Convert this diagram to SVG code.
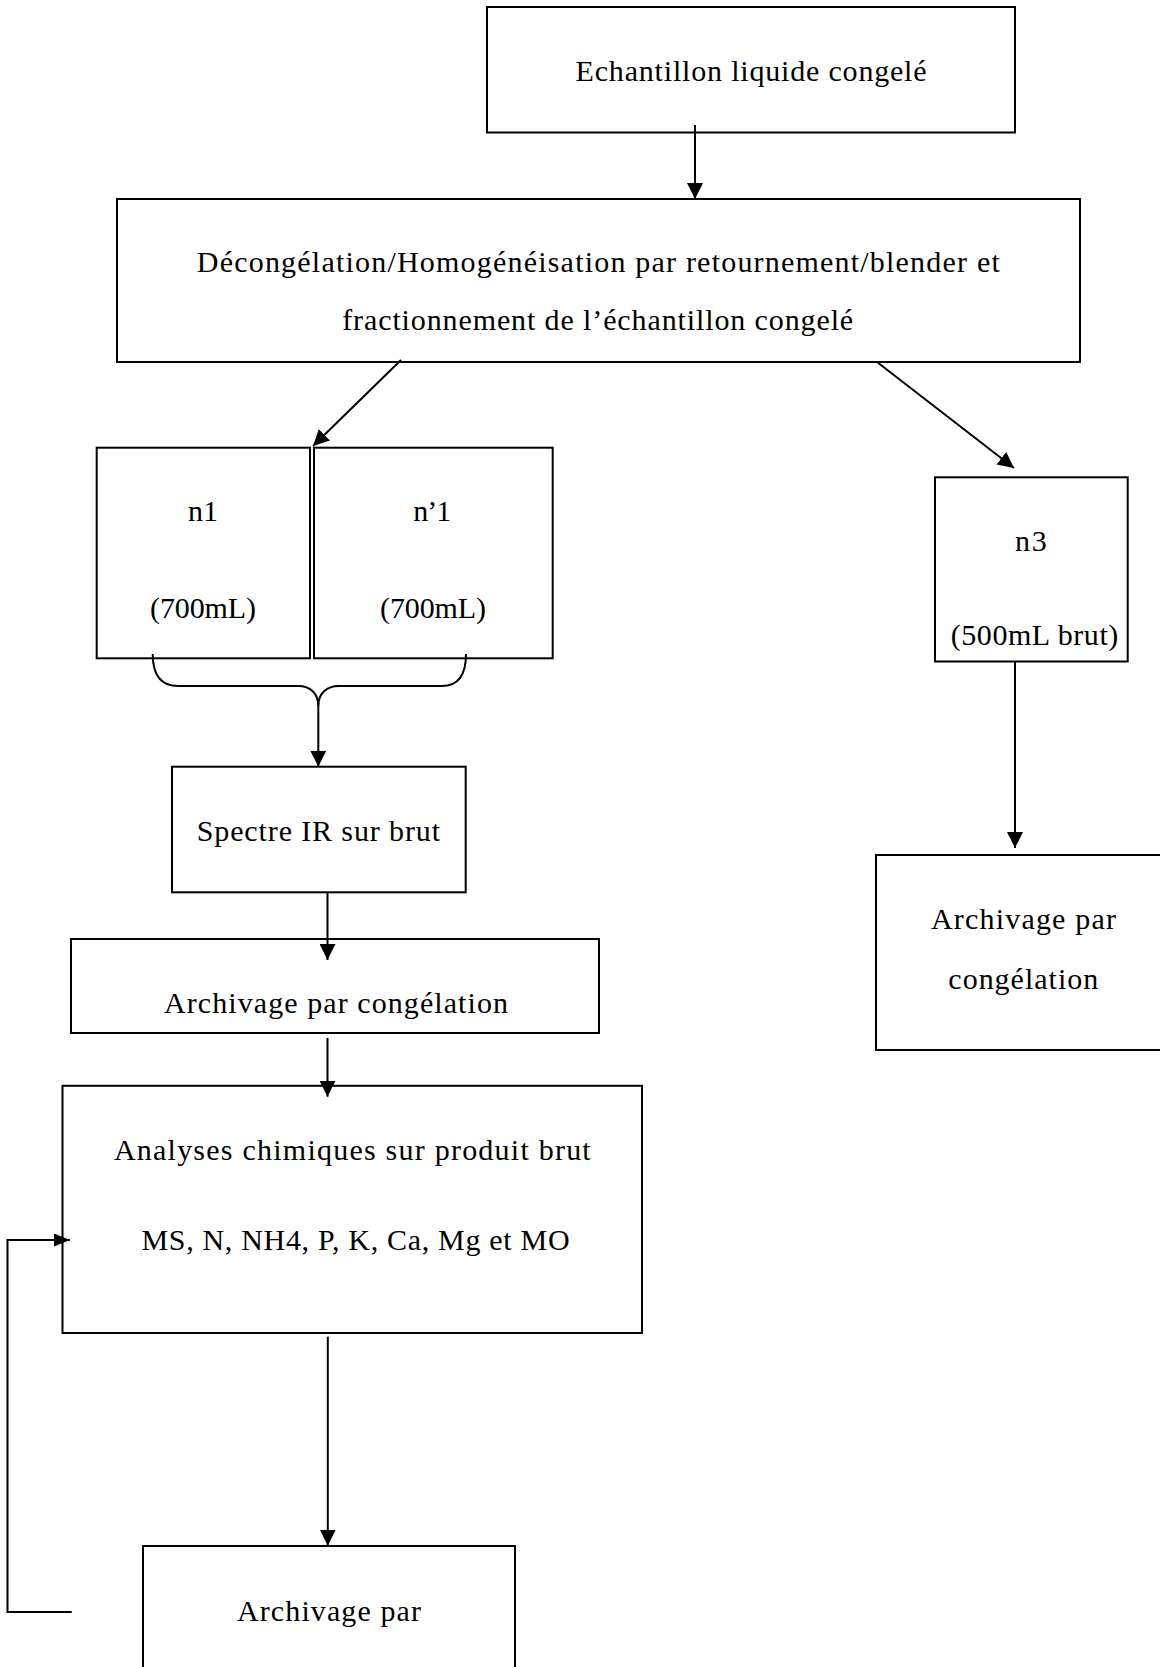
<svg xmlns="http://www.w3.org/2000/svg" width="1160" height="1667" viewBox="0 0 1160 1667">
<style>
.box{fill:#fff;stroke:#000;stroke-width:2}
.t{font-family:"Liberation Serif",Tinos,"Times New Roman",serif;font-size:30px;fill:#000}
.c{fill:none;stroke:#000;stroke-width:2}
</style>
<defs>
<marker id="ah" markerUnits="userSpaceOnUse" markerWidth="17" markerHeight="16" refX="16" refY="8" orient="auto">
<path d="M0,0 L16,8 L0,16 z" fill="#000"/>
</marker>
<marker id="ahs" markerUnits="userSpaceOnUse" markerWidth="17" markerHeight="13" refX="16" refY="6.5" orient="auto">
<path d="M0,0 L16,6.5 L0,13 z" fill="#000"/>
</marker>
</defs>
<rect width="1160" height="1667" fill="#fff"/>

<g id="n-echantillon">
<rect class="box" x="487" y="7" width="528" height="125.5"/>
<text class="t" x="575.6" y="81" textLength="351" lengthAdjust="spacing">Echantillon liquide congelé</text>
</g>

<g id="n-decongelation">
<rect class="box" x="117" y="199" width="963" height="163"/>
<text class="t" x="196.8" y="272" textLength="803" lengthAdjust="spacing">Décongélation/Homogénéisation par retournement/blender et</text>
<text class="t" x="342.2" y="330" textLength="511" lengthAdjust="spacing">fractionnement de l’échantillon congelé</text>
</g>

<g id="n-n1">
<rect class="box" x="96.7" y="447.7" width="213.3" height="210.6"/>
<text class="t" x="188" y="521" textLength="30" lengthAdjust="spacing">n1</text>
<text class="t" x="150" y="618" textLength="106" lengthAdjust="spacing">(700mL)</text>
</g>

<g id="n-n1prime">
<rect class="box" x="314" y="447.7" width="238.7" height="210.6"/>
<text class="t" x="413.3" y="521" textLength="38" lengthAdjust="spacing">n’1</text>
<text class="t" x="380" y="618" textLength="106" lengthAdjust="spacing">(700mL)</text>
</g>

<g id="n-n3">
<rect class="box" x="935" y="477.3" width="192.7" height="184.2"/>
<text class="t" x="1015" y="551" textLength="31.7" lengthAdjust="spacing">n3</text>
<text class="t" x="950.7" y="645" textLength="167.6" lengthAdjust="spacing">(500mL brut)</text>
</g>

<g id="n-spectre">
<rect class="box" x="172" y="766.7" width="293.7" height="125.6"/>
<text class="t" x="196.7" y="840.7" textLength="243.3" lengthAdjust="spacing">Spectre IR sur brut</text>
</g>

<g id="n-archivage1">
<rect class="box" x="71" y="939" width="528" height="94"/>
<text class="t" x="164" y="1012.7" textLength="344" lengthAdjust="spacing">Archivage par congélation</text>
</g>

<g id="n-analyses">
<rect class="box" x="62.5" y="1085.8" width="579.5" height="247.2"/>
<text class="t" x="113.9" y="1159.5" textLength="476.8" lengthAdjust="spacing">Analyses chimiques sur produit brut</text>
<text class="t" x="141.4" y="1250" textLength="428.2" lengthAdjust="spacing">MS, N, NH4, P, K, Ca, Mg et MO</text>
</g>

<g id="n-archivage-n3">
<rect class="box" x="876" y="855" width="300" height="195"/>
<text class="t" x="931" y="929" textLength="185" lengthAdjust="spacing">Archivage par</text>
<text class="t" x="948.3" y="989" textLength="150" lengthAdjust="spacing">congélation</text>
</g>

<g id="n-archivage2">
<rect class="box" x="143" y="1546" width="372" height="140"/>
<text class="t" x="237" y="1621" textLength="184" lengthAdjust="spacing">Archivage par</text>
</g>

<g id="connectors">
<line class="c" x1="695" y1="125" x2="695" y2="199" marker-end="url(#ah)"/>
<line class="c" x1="401" y1="360" x2="313" y2="446" marker-end="url(#ah)"/>
<line class="c" x1="877" y1="362" x2="1014" y2="468" marker-end="url(#ah)"/>
<path class="c" d="M152.7,654 C152.7,675 161,686 178,686 L298,686 C311,686 318.3,694 318.3,706 C318.3,694 326,686 339,686 L442,686 C458,686 466,675 466,654"/>
<line class="c" x1="318.3" y1="703" x2="318.3" y2="766.7" marker-end="url(#ah)"/>
<line class="c" x1="327.5" y1="892" x2="327.5" y2="960" marker-end="url(#ah)"/>
<line class="c" x1="327.5" y1="1038" x2="327.5" y2="1096.7" marker-end="url(#ah)"/>
<line class="c" x1="327.8" y1="1336.7" x2="327.8" y2="1545.7" marker-end="url(#ah)"/>
<line class="c" x1="1015" y1="662" x2="1015" y2="848" marker-end="url(#ah)"/>
<path class="c" d="M71.7,1612 L7.5,1612 L7.5,1240 L70,1240" marker-end="url(#ahs)"/>
</g>
</svg>
